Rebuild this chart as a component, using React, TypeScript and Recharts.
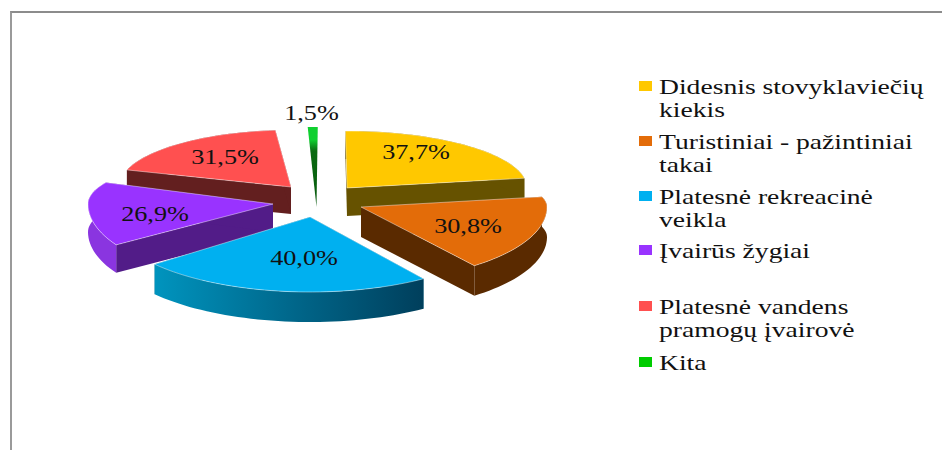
import React from "react";
import { PieChart, Pie, Legend } from "recharts";

const categories = [
  "Didesnis stovyklaviečių kiekis",
  "Turistiniai - pažintiniai takai",
  "Platesnė rekreacinė veikla",
  "Įvairūs žygiai",
  "Platesnė vandens pramogų įvairovė",
  "Kita",
];
const values = [37.7, 30.8, 40.0, 26.9, 31.5, 1.5];
const colors = ["#FFC800", "#E36C09", "#00B0F0", "#9933FF", "#FF5050", "#00CC00"];
const legendLines = [
  ["Didesnis stovyklaviečių", "kiekis"],
  ["Turistiniai - pažintiniai", "takai"],
  ["Platesnė rekreacinė", "veikla"],
  ["Įvairūs žygiai"],
  ["Platesnė vandens", "pramogų įvairovė"],
  ["Kita"],
];
const legendTops = [94, 149, 204, 258, 314, 370];

const data = categories.map((name, i) => ({ name, value: values[i] }));

// Look of the tilted, exploded pie
const CX = 316;
const CY = 200;
const RADIUS = 180;
const DRAW_ORDER = [4, 0, 5, 3, 1, 2];
const looks = [
  { dx: 31, dy: -12, rx: 180, back: 57, front: 60, rot: -1.5, depth: 28, radial: "#665200", arc: "#665200", lx: 69, ly: -36 },
  { dx: 45, dy: 7, rx: 186, back: 44, front: 74, rot: 2, depth: 30, radial: "#5A2A00", arc: "#5A2A00", lx: 107, ly: 19 },
  { dx: -6, dy: 17, rx: 200, back: 60, front: 75, rot: -1, depth: 30, radial: "#00607F", arc: "url(#blueWall)", lx: -6, ly: 41 },
  { dx: -43, dy: 4, rx: 185, back: 50, front: 77, rot: -8, depth: 28, radial: "#521C88", arc: "#8A35E0", lx: -118, ly: 10 },
  { dx: -25, dy: -13, rx: 172, back: 57, front: 60, rot: 0, depth: 27, radial: "#631F1F", arc: "#631F1F", lx: -66, ly: -30 },
  { dx: 0.5, dy: 7, rx: 180, back: 80, front: 60, rot: -2.4, depth: 0, radial: "#0A5A10", arc: "#0A5A10", lx: -5, ly: -94 },
];

const percent = (v: number) => v.toFixed(1).replace(".", ",") + "%";

function makeShape(slice: number) {
  return function SliceShape(props: any) {
    const { cx, cy, startAngle, endAngle, index, outerRadius } = props;
    if (index !== slice) return null;
    const look = looks[slice];
    const ax = cx + look.dx;
    const ay = cy + look.dy;
    const k = look.rx / outerRadius;
    const at = (deg: number): [number, number] => {
      const t = ((deg + look.rot) * Math.PI) / 180;
      const s = Math.sin(t);
      return [ax + outerRadius * k * Math.cos(t), ay - (s >= 0 ? look.back : look.front) * s];
    };
    const n = Math.max(2, Math.ceil(Math.abs(endAngle - startAngle) / 2));
    const arc: [number, number][] = [];
    for (let i = 0; i <= n; i++) arc.push(at(startAngle + ((endAngle - startAngle) * i) / n));
    const down = (p: [number, number]): [number, number] => [p[0], p[1] + look.depth];
    const path = (pts: [number, number][]) =>
      "M" + pts.map((p) => p[0].toFixed(2) + "," + p[1].toFixed(2)).join("L") + "Z";
    const apex: [number, number] = [ax, ay];
    const first = arc[0];
    const last = arc[arc.length - 1];
    const fill = slice === 5 ? "url(#greenTop)" : colors[slice];
    return (
      <g>
        <defs>
          <linearGradient id="blueWall" x1="0" y1="0" x2="1" y2="0">
            <stop offset="0" stopColor="#0094BE" />
            <stop offset="0.5" stopColor="#00688C" />
            <stop offset="1" stopColor="#003F5C" />
          </linearGradient>
          <linearGradient id="greenTop" x1="0" y1="0" x2="0" y2="1">
            <stop offset="0" stopColor="#10D030" />
            <stop offset="0.16" stopColor="#10D030" />
            <stop offset="0.3" stopColor="#0A6A10" />
            <stop offset="1" stopColor="#0A5A10" />
          </linearGradient>
        </defs>
        {look.depth > 0 && (
          <>
            <path d={path([apex, first, down(first), down(apex)])} fill={look.radial} />
            <path d={path([apex, last, down(last), down(apex)])} fill={look.radial} />
            <path d={path([...arc, ...arc.map(down).reverse()])} fill={look.arc} />
          </>
        )}
        <path
          d={path([apex, ...arc])}
          fill={fill}
          stroke={slice === 5 ? "none" : "rgba(255,255,255,0.55)"}
          strokeWidth={0.8}
        />
        <text
          transform={`translate(${ax + look.lx},${ay + look.ly + 7}) scale(1.28,1)`}
          textAnchor="middle"
          fontFamily="'Liberation Serif', serif"
          fontSize={20.5}
          fill="#111"
        >
          {percent(values[slice])}
        </text>
      </g>
    );
  };
}

function ChartLegend() {
  return (
    <div style={{ position: "relative", width: 942, height: 450 }}>
      {categories.map((name, i) => (
        <React.Fragment key={name}>
          <div
            style={{
              position: "absolute",
              left: 639,
              top: legendTops[i] - 13,
              width: 13,
              height: 10,
              background: colors[i],
            }}
          />
          {legendLines[i].map((line, j) => (
            <div
              key={line}
              style={{
                position: "absolute",
                left: 659,
                top: legendTops[i] + j * 23 - 20,
                fontFamily: "'Liberation Serif', serif",
                fontSize: 22,
                lineHeight: "25px",
                color: "#111",
                whiteSpace: "nowrap",
                transform: "scaleX(1.255)",
                transformOrigin: "left center",
              }}
            >
              {line}
            </div>
          ))}
        </React.Fragment>
      ))}
    </div>
  );
}

export default function App() {
  return (
    <div
      style={{
        position: "absolute",
        left: 0,
        top: 0,
        width: 942,
        height: 450,
        overflow: "hidden",
        background: "#fff",
      }}
    >
      <div
        style={{
          position: "absolute",
          left: 10,
          top: 11,
          width: 940,
          height: 450,
          borderTop: "2px solid #8c8c8c",
          borderLeft: "2px solid #9a9a9a",
        }}
      />
      <PieChart width={942} height={450} margin={{ top: 0, right: 0, bottom: 0, left: 0 }} style={{ position: "absolute", left: 0, top: 0 }}>
        {DRAW_ORDER.map((slice) => (
          <Pie
            key={slice}
            data={data}
            dataKey="value"
            nameKey="name"
            cx={CX}
            cy={CY}
            innerRadius={0}
            outerRadius={RADIUS}
            startAngle={92}
            endAngle={-268}
            stroke="none"
            isAnimationActive={false}
            shape={makeShape(slice)}
          />
        ))}
        <Legend
          content={() => <ChartLegend />}
          wrapperStyle={{ position: "absolute", left: 0, top: 0, width: 942, height: 450, bottom: "auto" }}
        />
      </PieChart>
    </div>
  );
}
